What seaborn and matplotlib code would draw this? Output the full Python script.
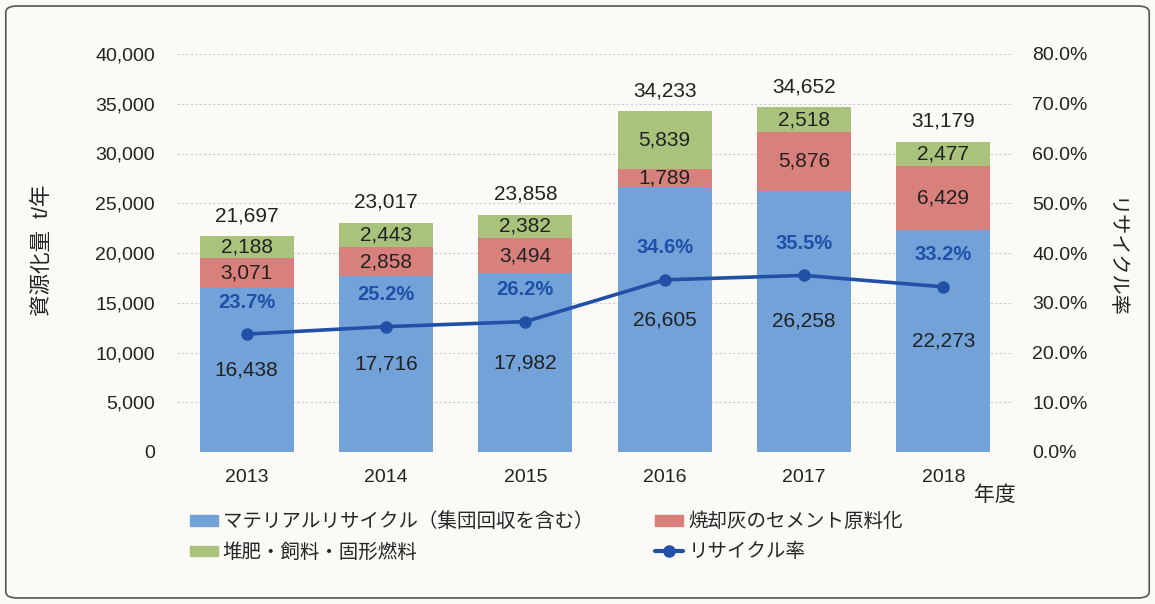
import numpy as np
import pandas as pd
import matplotlib
matplotlib.use("Agg")
import matplotlib.pyplot as plt
import seaborn as sns
from matplotlib.patches import Patch, FancyBboxPatch
from matplotlib.lines import Line2D
from matplotlib.ticker import FuncFormatter, MultipleLocator

# Data
years = ["2013", "2014", "2015", "2016", "2017", "2018"]
material = [16438, 17716, 17982, 26605, 26258, 22273]
cement = [3071, 2858, 3494, 1789, 5876, 6429]
compost = [2188, 2443, 2382, 5839, 2518, 2477]
totals = [21697, 23017, 23858, 34233, 34652, 31179]
rates = [23.7, 25.2, 26.2, 34.6, 35.5, 33.2]

series_names = ["マテリアルリサイクル（集団回収を含む）", "焼却灰のセメント原料化",
                "堆肥・飼料・固形燃料", "リサイクル率"]

df = pd.DataFrame({"year": years, "material": material, "cement": cement,
                   "compost": compost, "rate": rates})
df["lvl1"] = df["material"]
df["lvl2"] = df["material"] + df["cement"]
df["lvl3"] = df["lvl2"] + df["compost"]

c_blue = "#72A2D8"
c_red = "#D7807C"
c_green = "#AAC37C"
c_line = "#2150A6"
bg = "#fbfaf6"
txt = "#222222"

sns.set_theme(style="white")
plt.rcParams["font.family"] = ["Liberation Sans", "Noto Sans CJK JP", "DejaVu Sans"]

fig = plt.figure(figsize=(11.55, 6.04), dpi=100, facecolor=bg)
ax = fig.add_axes([177 / 1155, 1 - 452 / 604, (1013 - 177) / 1155, (452 - 54) / 604])
ax.set_facecolor("none")

# stacked bars drawn as layered cumulative heights
bw = 0.675
sns.barplot(data=df, x="year", y="lvl3", color=c_green, saturation=1, width=bw,
            errorbar=None, ax=ax, linewidth=0)
sns.barplot(data=df, x="year", y="lvl2", color=c_red, saturation=1, width=bw,
            errorbar=None, ax=ax, linewidth=0)
sns.barplot(data=df, x="year", y="lvl1", color=c_blue, saturation=1, width=bw,
            errorbar=None, ax=ax, linewidth=0)

ax.set_ylim(0, 40000)
ax.set_xlim(-0.5, 5.5)
ax.yaxis.set_major_locator(MultipleLocator(5000))
ax.yaxis.set_major_formatter(FuncFormatter(lambda v, p: f"{int(v):,}"))
ax.grid(axis="y", color="#c9c9c9", linestyle=(0, (2, 2)), linewidth=0.8)
ax.grid(axis="x", visible=False)
ax.set_axisbelow(True)
ax.set_xlabel("")
ax.set_ylabel("")
ax.tick_params(axis="y", length=0, pad=16, labelsize=14, labelcolor=txt)
ax.tick_params(axis="x", length=0, pad=12, labelsize=14, labelcolor=txt)
for s in ax.spines.values():
    s.set_visible(False)

# segment labels
for i in range(len(years)):
    ax.text(i, material[i] / 2, f"{material[i]:,}", ha="center", va="center",
            fontsize=15, color=txt)
    ax.text(i, material[i] + cement[i] / 2, f"{cement[i]:,}", ha="center", va="center",
            fontsize=15, color=txt)
    ax.text(i, df["lvl2"][i] + compost[i] / 2, f"{compost[i]:,}", ha="center",
            va="center", fontsize=15, color=txt)
    ax.annotate(f"{totals[i]:,}", (i, df["lvl3"][i]), xytext=(0, 8),
                textcoords="offset points", ha="center", va="bottom",
                fontsize=15, color=txt)

# recycle rate line
ax2 = ax.twinx()
ax2.set_facecolor("none")
sns.lineplot(x=np.arange(len(years)), y=rates, ax=ax2, color=c_line, linewidth=2.6,
             marker="o", markersize=9, markeredgewidth=0)
ax2.set_ylim(0, 80)
ax2.set_xlim(-0.5, 5.5)
ax2.yaxis.set_major_locator(MultipleLocator(10))
ax2.yaxis.set_major_formatter(FuncFormatter(lambda v, p: f"{v:.1f}%"))
ax2.tick_params(axis="y", length=0, pad=14, labelsize=14, labelcolor=txt)
ax2.grid(False)
for s in ax2.spines.values():
    s.set_visible(False)
for i, r in enumerate(rates):
    ax2.annotate(f"{r}%", (i, r), xytext=(0, 23), textcoords="offset points",
                 ha="center", va="center", fontsize=14.5, fontweight="bold",
                 color="#1F4FA8")

# axis titles
fig.text(43 / 1155, 1 - 250 / 604, "資源化量  t/年", rotation=90, ha="center",
         va="center", fontsize=15.5, color=txt)
fig.text(1114 / 1155, 1 - 258 / 604, "リサイクル率", rotation=270, ha="center",
         va="center", fontsize=14.5, color=txt)
fig.text(995 / 1155, 1 - 495 / 604, "年度", ha="center", va="center",
         fontsize=15, color=txt)

# legend
handles = [Patch(color=c_blue), Patch(color=c_green), Patch(color=c_red),
           Line2D([], [], color=c_line, linewidth=3, marker="o", markersize=8)]
labels = [series_names[0], series_names[2], series_names[1], series_names[3]]
fig.legend(handles, labels, ncol=2, loc="upper left",
           bbox_to_anchor=(172 / 1155, 1 - 495 / 604), frameon=False,
           fontsize=14, handlelength=1.45, handleheight=0.45, handletextpad=0.25,
           columnspacing=3.2, labelspacing=0.6)

# outer frame
frame = FancyBboxPatch((0.005, 0.01), 0.99, 0.98, boxstyle="round,pad=0,rounding_size=0.01",
                       transform=fig.transFigure, fill=False, edgecolor="#555555",
                       linewidth=1.2)
fig.patches.append(frame)

fig.savefig("out.png", dpi=100, facecolor=fig.get_facecolor())
